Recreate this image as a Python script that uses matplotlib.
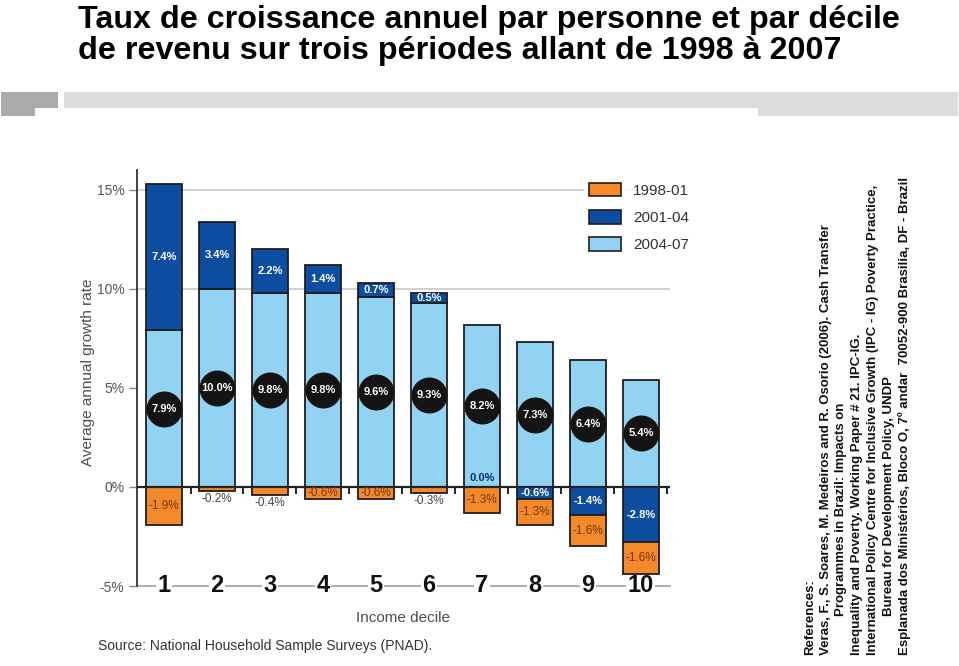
import matplotlib
matplotlib.use('Agg')
import matplotlib.pyplot as plt
import numpy as np
from matplotlib.patches import Rectangle, Patch

# ---------------- data ----------------
deciles = ['1', '2', '3', '4', '5', '6', '7', '8', '9', '10']
g1998_01 = [-1.9, -0.2, -0.4, -0.6, -0.6, -0.3, -1.3, -1.3, -1.6, -1.6]
g2001_04 = [7.4, 3.4, 2.2, 1.4, 0.7, 0.5, 0.0, -0.6, -1.4, -2.8]
g2004_07 = [7.9, 10.0, 9.8, 9.8, 9.6, 9.3, 8.2, 7.3, 6.4, 5.4]
series_names = ['1998-01', '2001-04', '2004-07']
y_ticks = [-5, 0, 5, 10, 15]
grid_values = [10, 15]

title_lines = ["Taux de croissance annuel par personne et par décile",
               "de revenu sur trois périodes allant de 1998 à 2007"]
ref_lines = [
    ("References:", False),
    ("Veras, F., S. Soares, M. Medeiros and R. Osorio (2006). Cash Transfer", False),
    ("Programmes in Brazil: Impacts on", True),
    ("Inequality and Poverty. Working Paper # 21. IPC-IG.", False),
    ("International Policy Centre for Inclusive Growth (IPC - IG) Poverty Practice,", False),
    ("Bureau for Development Policy, UNDP", True),
    ("Esplanada dos Ministérios, Bloco O, 7º andar  70052-900 Brasilia, DF - Brazil", False),
]

C_ORANGE = '#F3892A'
C_DARK = '#0C4D9F'
C_LIGHT = '#92D3F3'
C_EDGE = '#1e1e1e'

plt.rcParams['font.family'] = ['Liberation Sans', 'DejaVu Sans']

W, H = 959, 666
fig = plt.figure(figsize=(W / 100, H / 100), dpi=100)
fig.patch.set_facecolor('white')

def fx(px):
    return px / W

def fy(py):
    return 1 - py / H

# ---------------- title ----------------
fig.text(fx(78), fy(28), title_lines[0], fontsize=23.2, fontweight='bold',
         color='black', ha='left', va='baseline')
fig.text(fx(78), fy(59), title_lines[1], fontsize=23.2, fontweight='bold',
         color='black', ha='left', va='baseline')

# decorative gray bands under the title
def frect(x0, y0, x1, y1, color):
    fig.patches.append(Rectangle((fx(x0), fy(y1)), fx(x1) - fx(x0), fy(y0) - fy(y1),
                                 transform=fig.transFigure, facecolor=color,
                                 edgecolor='none', zorder=0))

frect(1, 92, 58, 108, '#ababab')
frect(1, 108, 35, 116, '#ababab')
frect(64, 92, 958, 108, '#dcdcdc')
frect(758, 108, 958, 116, '#dcdcdc')

# ---------------- axes ----------------
ax = fig.add_axes([fx(137), fy(586), fx(670) - fx(137), fy(170) - fy(586)])
ax.set_facecolor('white')

x = np.arange(1, len(deciles) + 1)
L = np.array(g2004_07)
D = np.array(g2001_04)
O = np.array(g1998_01)
bw = 0.67

for gv in grid_values:
    ax.axhline(gv, color='#c8c8c8', lw=1.2, zorder=0)
# bottom baseline at the lowest tick
ax.axhline(y_ticks[0], color='#aaaaaa', lw=1.3, zorder=1, clip_on=False)

ax.bar(x, L, width=bw, color=C_LIGHT, edgecolor=C_EDGE, lw=1.3, zorder=2)
d_bottom = np.where(D > 0, L, 0)
ax.bar(x, D, bottom=d_bottom, width=bw, color=C_DARK, edgecolor=C_EDGE, lw=1.3, zorder=2)
o_bottom = np.where(D < 0, D, 0)
ax.bar(x, O, bottom=o_bottom, width=bw, color=C_ORANGE, edgecolor=C_EDGE, lw=1.3, zorder=2)

# zero line with category boundary ticks
ax.axhline(0, color='#222222', lw=1.6, zorder=3)
ax.vlines(np.arange(1.5, len(deciles) + 1), -0.35, 0, color='#222222', lw=1.4, zorder=3)

# labels for 2004-07 (black discs)
ax.scatter(x, L / 2, s=620, color='#141414', zorder=4)
for xi, v in zip(x, L):
    ax.text(xi, v / 2, f"{v:.1f}%", color='white', fontsize=8, fontweight='bold',
            ha='center', va='center', zorder=5)

# labels for 2001-04
for xi, v, b in zip(x, D, d_bottom):
    if v == 0:
        ax.text(xi, 0.45, f"{v:.1f}%", color='#0b2e6a', fontsize=8, fontweight='bold',
                ha='center', va='center', zorder=5)
    else:
        ax.text(xi, b + v / 2, f"{v:.1f}%", color='white', fontsize=8, fontweight='bold',
                ha='center', va='center', zorder=5)

# labels for 1998-01
for xi, v, b in zip(x, O, o_bottom):
    if abs(v) >= 0.55:
        ax.text(xi, b + v / 2, f"{v:.1f}%", color='#7a3308', fontsize=8.5,
                ha='center', va='center', zorder=5)
    else:
        ax.text(xi, b + v - 0.12, f"{v:.1f}%", color='#444444', fontsize=8.5,
                ha='center', va='top', zorder=5)

ax.set_xlim(0.49, len(deciles) + 0.55)
ax.set_ylim(-5, 16)
ax.set_yticks(y_ticks)
ax.set_yticklabels([f"{v}%" for v in y_ticks], color='#555555', fontsize=10)
ax.tick_params(axis='y', length=6, width=1.0, color='#888888', pad=3)
ax.set_xticks([])
for s in ['top', 'right', 'bottom']:
    ax.spines[s].set_visible(False)
ax.spines['left'].set_color('#333333')
ax.spines['left'].set_linewidth(1.3)

for xi, lab in zip(x, deciles):
    ax.text(xi, y_ticks[0], lab, fontsize=17, fontweight='bold', color='#111111',
            ha='center', va='center', zorder=1.8, clip_on=False,
            bbox=dict(boxstyle='square,pad=0.06', facecolor='white', edgecolor='none'))

fig.text(fx(88), fy(372), "Average annual growth rate", rotation=90, fontsize=11,
         color='#4d4d4d', ha='center', va='center')
fig.text(fx(403), fy(618), "Income decile", fontsize=11, color='#4d4d4d',
         ha='center', va='center')
fig.text(fx(98), fy(646), "Source: National Household Sample Surveys (PNAD).", fontsize=10,
         color='#333333', ha='left', va='center')

# legend
handles = [Patch(facecolor=c, edgecolor=C_EDGE, lw=1.2) for c in (C_ORANGE, C_DARK, C_LIGHT)]
leg = fig.legend(handles, series_names, loc='upper left',
                 bbox_to_anchor=(fx(584), fy(178)), frameon=True, fontsize=11,
                 handlelength=2.1, handleheight=1.0, handletextpad=0.8,
                 labelspacing=0.8, borderpad=0.3, borderaxespad=0)
leg.get_frame().set_facecolor('white')
leg.get_frame().set_edgecolor('none')
for t in leg.get_texts():
    t.set_color('#333333')

# rotated references
ref_x = [810, 826, 841, 857, 873, 889, 905]
for (line, indent), px in zip(ref_lines, ref_x):
    fig.text(fx(px), fy(616 if indent else 655), line, rotation=90, fontsize=9.5,
             fontweight='bold', color='#111111', ha='center', va='bottom')

fig.savefig('out.png', dpi=100, facecolor='white')
